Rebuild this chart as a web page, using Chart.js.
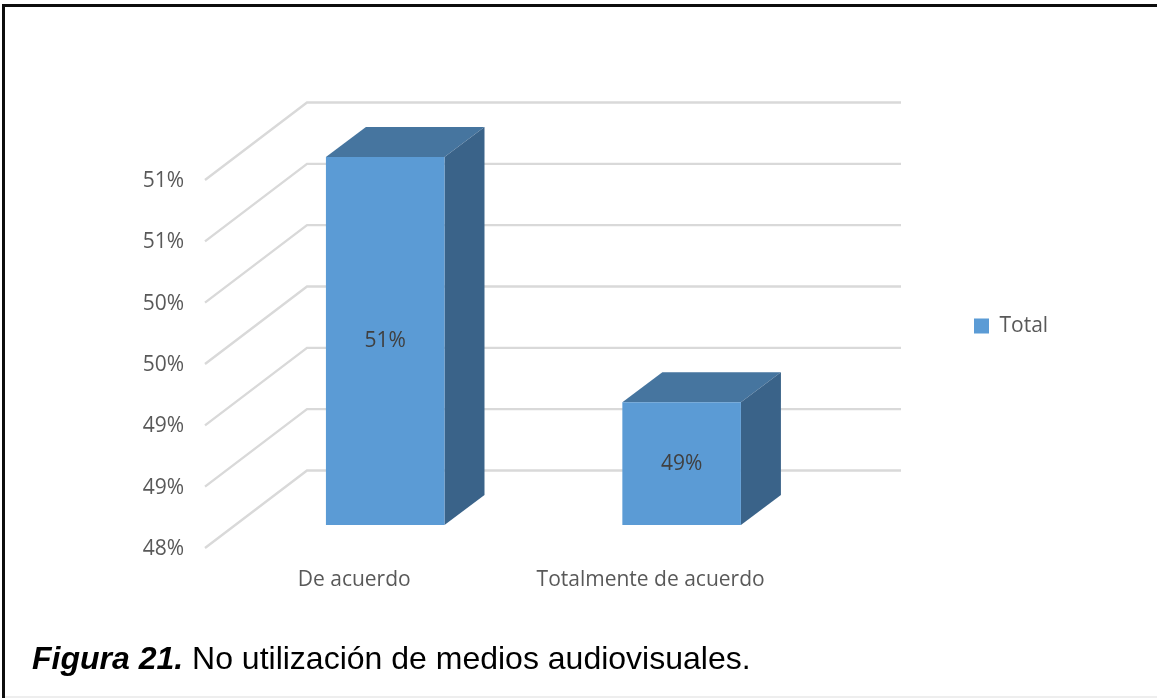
<!DOCTYPE html>
<html><head><meta charset="utf-8">
<script src="https://cdn.jsdelivr.net/npm/chart.js@4"></script>
<style>
html,body{margin:0;padding:0;background:#fff;overflow:hidden}
#wrap{position:relative;width:1157px;height:698px;background:#fff}
canvas{position:absolute;left:0;top:0}
.b{position:absolute;background:#0d0d0d}
#cap{position:absolute;left:32px;top:640px;font:32px "Liberation Sans",Arial,sans-serif;color:#000;white-space:nowrap}
#cap b{font-style:italic}
</style></head><body>
<div id="wrap">
<canvas id="c" width="1157" height="698"></canvas>
<div class="b" style="left:2px;top:4px;width:1155px;height:3px"></div>
<div class="b" style="left:2px;top:4px;width:3px;height:694px"></div>
<div class="b" style="left:5px;top:696px;width:1152px;height:2px;background:#eeeeee"></div>
<div id="cap"><b>Figura 21.</b> No utilización de medios audiovisuales.</div>
</div>
<script>
const categories = ['De acuerdo', 'Totalmente de acuerdo'];
const seriesName = 'Total';
const seriesValues = [51, 49];
const axisMin = 48, axisMax = 51, axisStep = 0.5;

const FONT = '"Open Sans", sans-serif';
const FONT_SIZE = 21;
const depth = {dx: 40, dy: -30};
const wall = {frontX: 205, frontDy: 23, backX: 307, backDy: -54.5, right: 901};

const threeD = {
  id: 'threeD',
  afterLayout(chart) {
    const l = chart.legend;
    const w = l.width;
    l.left = 964; l.right = 964 + w;
    l.top = 301; l.bottom = 351; l.height = 50;
  },
  beforeDatasetsDraw(chart) {
    const ctx = chart.ctx, y = chart.scales.y;
    const floor = y.getPixelForValue(y.min);
    ctx.save();
    ctx.strokeStyle = '#d9d9d9';
    ctx.lineWidth = 2.4;
    ctx.lineJoin = 'miter';
    y.ticks.forEach(t => {
      const p = y.getPixelForValue(t.value);
      ctx.beginPath();
      ctx.moveTo(wall.frontX, p + wall.frontDy);
      ctx.lineTo(wall.backX, p + wall.backDy);
      ctx.lineTo(wall.right, p + wall.backDy);
      ctx.stroke();
    });
    chart.getDatasetMeta(0).data.forEach(b => {
      const L = b.x - b.width / 2, R = b.x + b.width / 2, T = b.y, B = floor;
      ctx.fillStyle = '#46759f';
      ctx.beginPath();
      ctx.moveTo(L, T); ctx.lineTo(L + depth.dx, T + depth.dy);
      ctx.lineTo(R + depth.dx, T + depth.dy); ctx.lineTo(R, T);
      ctx.closePath(); ctx.fill();
      ctx.fillStyle = '#3a6389';
      ctx.beginPath();
      ctx.moveTo(R, T); ctx.lineTo(R + depth.dx, T + depth.dy);
      ctx.lineTo(R + depth.dx, B + depth.dy); ctx.lineTo(R, B);
      ctx.closePath(); ctx.fill();
    });
    ctx.restore();
  },
  afterDatasetsDraw(chart) {
    const ctx = chart.ctx, y = chart.scales.y;
    const floor = y.getPixelForValue(y.min);
    ctx.save();
    ctx.font = FONT_SIZE + 'px ' + FONT;
    ctx.fillStyle = '#404040';
    ctx.textAlign = 'center';
    ctx.textBaseline = 'middle';
    chart.getDatasetMeta(0).data.forEach((b, i) => {
      ctx.fillText(seriesValues[i] + '%', b.x, (b.y + floor) / 2);
    });
    ctx.restore();
  }
};

new Chart(document.getElementById('c'), {
  type: 'bar',
  data: {
    labels: categories,
    datasets: [{
      label: seriesName,
      data: seriesValues,
      backgroundColor: '#5b9bd5',
      borderWidth: 0,
      barPercentage: 1,
      categoryPercentage: 0.4
    }]
  },
  options: {
    responsive: false,
    animation: false,
    layout: {padding: {left: 0, top: 157, right: 233, bottom: 0}},
    scales: {
      x: {
        grid: {display: false},
        border: {display: false},
        afterFit: s => { s.height = 173; },
        ticks: {labelOffset: -31, padding: 34, maxRotation: 0, autoSkip: false,
                color: '#595959', font: {family: FONT, size: FONT_SIZE}}
      },
      y: {
        min: axisMin, max: axisMax,
        grid: {display: false},
        border: {display: false},
        afterFit: s => { s.width = 237; },
        ticks: {stepSize: axisStep, labelOffset: 24, padding: 45, autoSkip: false,
                color: '#595959', font: {family: FONT, size: FONT_SIZE},
                callback: v => Math.round(v) + '%'}
      }
    },
    plugins: {
      legend: {
        position: 'right',
        labels: {boxWidth: 15, boxHeight: 15, padding: 10, color: '#595959',
                 font: {family: FONT, size: FONT_SIZE}}
      },
      tooltip: {enabled: false},
      title: {display: false}
    }
  },
  plugins: [threeD]
});
</script>
</body></html>
